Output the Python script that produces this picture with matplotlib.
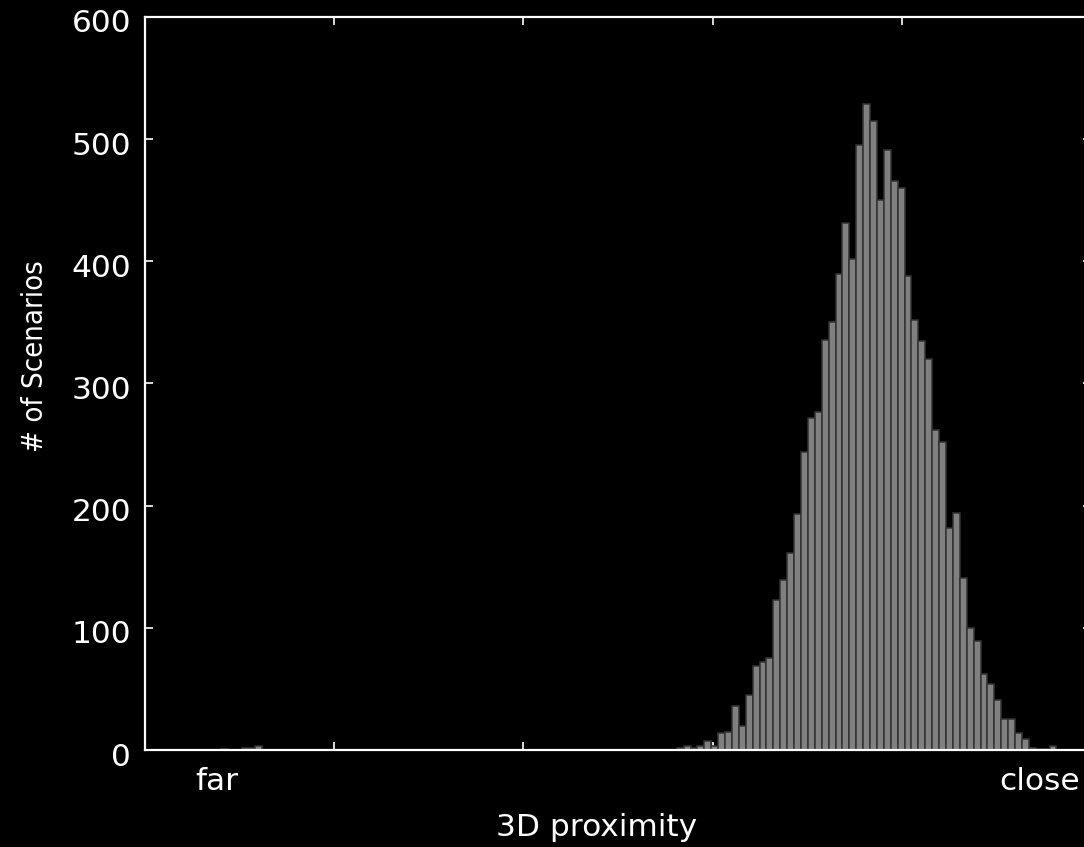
import numpy as np
import matplotlib
matplotlib.use("Agg")
import matplotlib.pyplot as plt
from matplotlib.transforms import ScaledTranslation

# Histogram of 3D proximity over scenarios (137 equal-width bins, far -> close)
n_bins = 137

# Sparse tail on the "far" side
far_first_bin = 11
far_counts = [1, 0, 0, 2, 2, 3]

# Main cluster on the "close" side
near_first_bin = 77
near_counts = [
    2, 3, 2, 3, 7, 3, 14, 15, 36, 20,
    45, 69, 72, 75, 123, 139, 161, 193, 244, 272,
    277, 336, 350, 390, 431, 402, 495, 529, 515, 450,
    491, 466, 460, 388, 352, 335, 320, 262, 252, 182,
    194, 141, 100, 89, 62, 54, 41, 25, 25, 14,
    9, 2, 1, 1, 3,
]

y_ticks = [0, 100, 200, 300, 400, 500, 600]

counts = np.zeros(n_bins)
counts[far_first_bin:far_first_bin + len(far_counts)] = far_counts
counts[near_first_bin:near_first_bin + len(near_counts)] = near_counts
centers = np.arange(n_bins) + 0.5

FS = 22.5

fig = plt.figure(figsize=(10.84, 8.47), dpi=100, facecolor="black")
ax = fig.add_axes([145 / 1084, 1 - 750 / 847, 946 / 1084, 733 / 847])
ax.set_facecolor("black")

mask = counts > 0
ax.bar(centers[mask], counts[mask], width=1.0, color="#808080",
       edgecolor="#333333", linewidth=1.1, zorder=2)

ax.set_xlim(0, n_bins)
ax.set_ylim(0, 600)

ax.set_xticks(np.linspace(0, n_bins, 6))
ax.set_xticklabels([])
ax.set_yticks(y_ticks)
ax.set_yticklabels([str(v) for v in y_ticks])

for s in ax.spines.values():
    s.set_color("white")
    s.set_linewidth(1.6)
    s.set_zorder(5)

ax.tick_params(axis="both", which="both", direction="in", color="white",
               length=6, width=1.2, top=True, right=True,
               labelcolor="white", labelsize=FS, pad=10)

# y tick labels sit a few pixels below their ticks
shift = ScaledTranslation(0, -4 / 100, fig.dpi_scale_trans)
for tick in ax.yaxis.get_major_ticks():
    tick.label1.set_transform(tick.label1.get_transform() + shift)

fig.text(217 / 1084, 1 - 781 / 847, "far", color="white", fontsize=FS,
         ha="center", va="center")
fig.text(1040 / 1084, 1 - 781 / 847, "close", color="white", fontsize=FS,
         ha="center", va="center")
fig.text(597 / 1084, 1 - 827 / 847, "3D proximity", color="white",
         fontsize=FS, ha="center", va="center")
fig.text(35 / 1084, 1 - 356 / 847, "# of Scenarios", color="white",
         fontsize=21, ha="center", va="center", rotation=90,
         fontstretch="condensed")

fig.savefig("out.png", dpi=100, facecolor="black")
